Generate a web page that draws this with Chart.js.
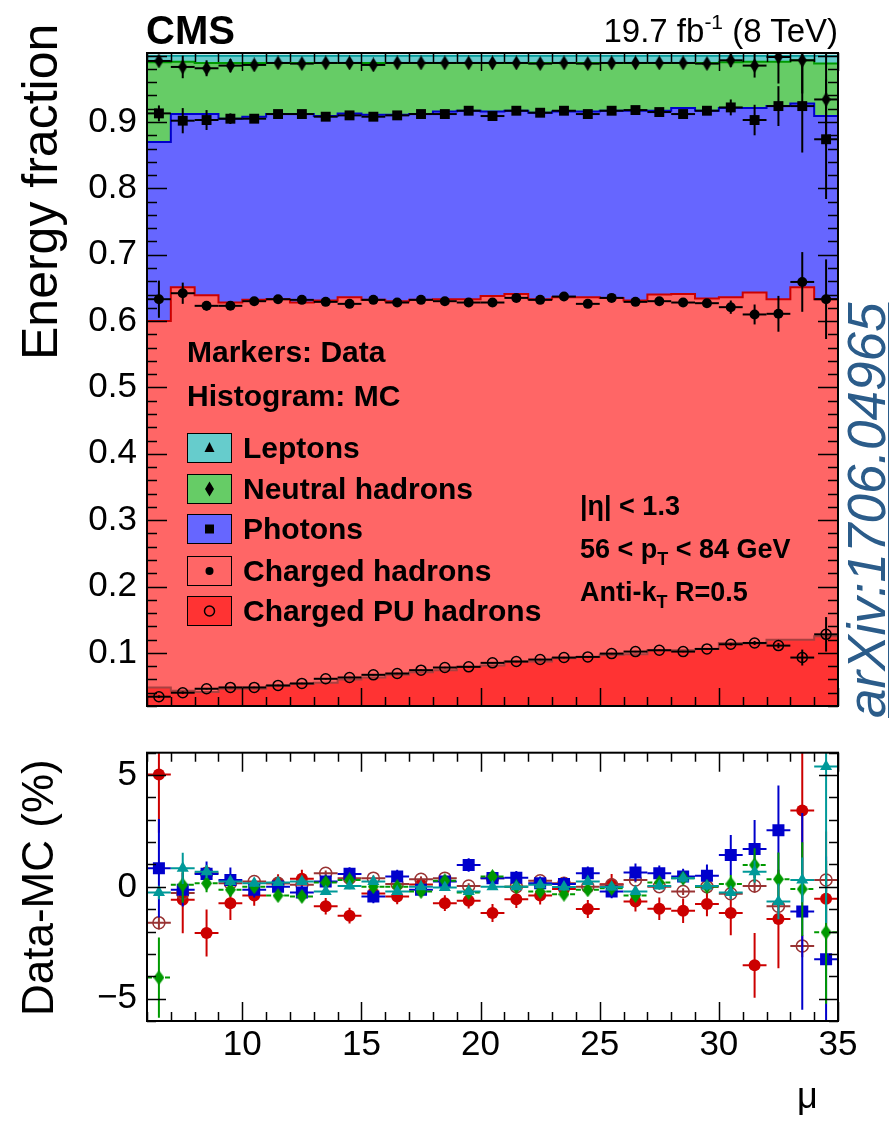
<!DOCTYPE html>
<html>
<head>
<meta charset="utf-8">
<script src="https://cdn.jsdelivr.net/npm/chart.js@4.4.0/dist/chart.umd.min.js"></script>
<style>
html,body{margin:0;padding:0;background:#fff;}
#wrap{position:relative;width:889px;height:1123px;overflow:hidden;font-family:"Liberation Sans",Arial,Helvetica,sans-serif;color:#000;}
canvas{position:absolute;left:0;}
.t{position:absolute;white-space:nowrap;}
.rot{transform-origin:0 0;transform:rotate(-90deg);}
.box{position:absolute;left:187px;width:45px;height:30px;box-sizing:border-box;border:1.5px solid #000;}
.box svg{position:absolute;left:-1.5px;top:-1.5px;}
.leg{left:243px;font-size:30px;line-height:30px;font-weight:bold;}
.cut{font-size:27px;line-height:27px;font-weight:bold;left:580px;}
</style>
</head>
<body>
<div id="wrap">
  <canvas id="upper" width="889" height="760" style="top:0"></canvas>
  <canvas id="lower" width="889" height="423" style="top:700px"></canvas>

  <div class="t" style="left:146px;top:10px;font-size:40px;line-height:40px;font-weight:bold;">CMS</div>
  <div class="t" style="right:51px;top:14px;font-size:33px;line-height:33px;">19.7 fb<span style="font-size:21px;position:relative;top:-13px;">-1</span> (8 TeV)</div>

  <div class="t" style="left:187px;top:337px;font-size:30px;line-height:30px;font-weight:bold;">Markers: Data</div>
  <div class="t" style="left:187px;top:381px;font-size:30px;line-height:30px;font-weight:bold;">Histogram: MC</div>

  <div class="box" style="top:433px;background:#66CCCC;"><svg width="45" height="30"><polygon points="22.5,9 27.5,19 17.5,19" fill="#000"/></svg></div>
  <div class="t leg" style="top:433px;">Leptons</div>
  <div class="box" style="top:474px;background:#66CC66;"><svg width="45" height="30"><polygon points="22.5,7.5 27,15 22.5,22.5 18,15" fill="#000"/></svg></div>
  <div class="t leg" style="top:474px;">Neutral hadrons</div>
  <div class="box" style="top:514px;background:#6666FF;"><svg width="45" height="30"><rect x="18" y="10.5" width="9" height="9" fill="#000"/></svg></div>
  <div class="t leg" style="top:514px;">Photons</div>
  <div class="box" style="top:556px;background:#FF6666;"><svg width="45" height="30"><circle cx="22.5" cy="15" r="4" fill="#000"/></svg></div>
  <div class="t leg" style="top:556px;">Charged hadrons</div>
  <div class="box" style="top:596px;background:#FF3333;"><svg width="45" height="30"><circle cx="22.5" cy="15" r="5" fill="none" stroke="#000" stroke-width="1.5"/></svg></div>
  <div class="t leg" style="top:596px;">Charged PU hadrons</div>

  <div class="t cut" style="top:493px;">|η| &lt; 1.3</div>
  <div class="t cut" style="top:536px;">56 &lt; p<span style="font-size:18px;position:relative;top:7px;">T</span> &lt; 84 GeV</div>
  <div class="t cut" style="top:579px;">Anti-k<span style="font-size:18px;position:relative;top:7px;">T</span> R=0.5</div>

  <div class="t rot" style="left:15px;top:360px;font-size:50px;line-height:50px;">Energy fraction</div>
  <div class="t rot" style="left:16px;top:1016px;font-size:44px;line-height:44px;">Data-MC (%)</div>
  <div class="t" style="left:797px;top:1078px;font-size:36px;line-height:36px;">μ</div>

  <div class="t rot" style="left:840px;top:718px;font-size:53px;line-height:53px;font-style:italic;color:#2B5C8A;text-decoration:underline;">arXiv:1706.04965</div>
</div>

<script>
// ---------------- data ----------------
const mu = [6.5, 7.5, 8.5, 9.5, 10.5, 11.5, 12.5, 13.5, 14.5, 15.5, 16.5, 17.5, 18.5, 19.5, 20.5,
            21.5, 22.5, 23.5, 24.5, 25.5, 26.5, 27.5, 28.5, 29.5, 30.5, 31.5, 32.5, 33.5, 34.5];
const xTickLabels = [10, 15, 20, 25, 30, 35];
const upperYTickLabels = [0.1, 0.2, 0.3, 0.4, 0.5, 0.6, 0.7, 0.8, 0.9];
const lowerYTickLabels = [-5, 0, 5];

// MC stacked histogram: cumulative upper edge of each component
const mcChargedPU = [0.048,0.043,0.041,0.046,0.046,0.050,0.053,0.055,0.060,0.063,0.067,0.071,0.074,0.079,0.081,
                     0.087,0.087,0.092,0.094,0.097,0.098,0.104,0.104,0.106,0.115,0.114,0.120,0.120,0.125];
const mcChargedHad = [0.600,0.651,0.639,0.628,0.632,0.633,0.628,0.631,0.636,0.632,0.630,0.632,0.633,0.633,0.638,
                      0.641,0.633,0.636,0.636,0.635,0.631,0.640,0.641,0.634,0.636,0.643,0.633,0.651,0.633];
const mcPhotons = [0.870,0.912,0.912,0.905,0.908,0.912,0.912,0.909,0.913,0.911,0.911,0.912,0.916,0.917,0.916,
                   0.917,0.914,0.916,0.916,0.917,0.917,0.917,0.921,0.917,0.921,0.921,0.924,0.928,0.909];
const mcNeutral = [0.990,0.991,0.989,0.989,0.989,0.989,0.989,0.989,0.989,0.989,0.989,0.989,0.989,0.989,0.989,
                   0.989,0.989,0.989,0.989,0.989,0.989,0.989,0.989,0.989,0.990,0.991,0.991,0.993,0.988];
const mcLeptons = [1,1,1,1,1,1,1,1,1,1,1,1,1,1,1,1,1,1,1,1,1,1,1,1,1,1,1,1,1];

// Data: cumulative positions of the markers
const dataChargedPU = [0.034,0.040,0.046,0.048,0.048,0.051,0.054,0.061,0.063,0.067,0.069,0.074,0.078,0.079,0.085,
                       0.087,0.090,0.093,0.094,0.099,0.102,0.104,0.102,0.106,0.113,0.115,0.111,0.093,0.128];
const dataChargedHad = [0.633,0.642,0.623,0.623,0.630,0.633,0.632,0.629,0.626,0.632,0.628,0.632,0.630,0.628,0.628,
                        0.635,0.632,0.637,0.626,0.635,0.629,0.630,0.628,0.627,0.621,0.610,0.611,0.659,0.633];
const dataPhotons = [0.913,0.902,0.903,0.905,0.905,0.912,0.912,0.908,0.910,0.908,0.910,0.912,0.912,0.917,0.909,
                     0.917,0.914,0.917,0.912,0.917,0.918,0.915,0.912,0.917,0.922,0.903,0.924,0.924,0.874];
const dataNeutral = [0.992,0.983,0.981,0.985,0.986,0.989,0.988,0.989,0.989,0.986,0.989,0.989,0.989,0.989,0.989,
                     0.989,0.988,0.989,0.988,0.989,0.989,0.989,0.989,0.988,0.993,0.985,0.998,0.993,0.934];
const errChargedPU = [0.002,0.002,0.001,0.001,0.001,0.001,0.001,0.001,0.001,0.001,0.001,0.001,0.001,0.001,0.001,
                      0.001,0.001,0.001,0.001,0.001,0.001,0.001,0.001,0.001,0.002,0.003,0.004,0.012,0.026];
const errChargedHad = [0.028,0.016,0.007,0.005,0.003,0.002,0.002,0.002,0.002,0.002,0.002,0.002,0.002,0.002,0.002,
                       0.002,0.002,0.002,0.002,0.002,0.002,0.002,0.002,0.003,0.010,0.015,0.027,0.045,0.060];
const errPhotons = [0.012,0.019,0.015,0.008,0.003,0.002,0.002,0.002,0.002,0.002,0.002,0.002,0.002,0.002,0.002,
                    0.002,0.002,0.002,0.002,0.002,0.002,0.002,0.003,0.003,0.012,0.023,0.030,0.070,0.090];
const errNeutral = [0.006,0.017,0.012,0.010,0.004,0.003,0.003,0.003,0.003,0.004,0.003,0.003,0.003,0.003,0.003,
                    0.003,0.003,0.003,0.003,0.003,0.003,0.003,0.003,0.003,0.010,0.018,0.040,0.050,0.070];

// Data - MC (%) per component
const diffLeptons = [-0.25,0.83,0.68,0.24,0.16,0.19,0.24,-0.21,0.04,0.24,-0.21,0.01,-0.03,-0.21,0.01,
                     0.01,0.09,-0.01,0.24,-0.01,-0.21,0.04,0.39,0.04,-0.25,0.68,-0.65,0.31,5.38];
const diffNeutral = [-4.06,0.09,0.16,-0.13,0.01,-0.39,-0.43,0.19,0.31,0.01,0.01,-0.21,0.27,-0.25,0.46,
                     0.00,-0.21,-0.33,-0.13,-0.06,-0.39,0.19,0.39,0.01,0.13,0.98,0.34,-0.10,-2.03];
const diffPhotons = [0.83,-0.13,0.58,0.31,-0.13,0.01,-0.25,0.24,0.58,-0.43,0.46,-0.13,0.24,0.98,0.39,
                     0.41,0.16,0.13,0.61,-0.21,0.64,0.61,0.46,0.50,1.42,1.69,2.53,-1.10,-3.24];
const diffChargedHad = [5.02,-0.58,-2.06,-0.73,-0.39,0.16,0.36,-0.87,-1.29,-0.30,-0.43,0.10,-0.73,-0.62,-1.17,
                        -0.55,-0.39,-0.10,-0.99,0.12,-0.65,-0.98,-1.07,-0.77,-1.17,-3.51,-1.44,3.42,-0.53];
const diffChargedPU = [-1.61,-0.28,0.61,0.16,0.24,0.16,0.09,0.61,0.39,0.39,0.13,0.34,0.39,0.04,0.39,
                       0.01,0.27,0.16,0.01,0.09,0.31,0.01,-0.21,0.01,-0.31,0.04,-0.87,-2.65,0.31];
const errDiffLeptons = [0.30,0.70,0.30,0.20,0.15,0.15,0.15,0.15,0.15,0.15,0.15,0.15,0.15,0.15,0.15,
                        0.15,0.15,0.15,0.15,0.15,0.15,0.15,0.20,0.20,0.30,0.50,0.80,1.00,7.00];
const errDiffNeutral = [1.80,0.80,0.40,0.30,0.20,0.20,0.20,0.20,0.20,0.20,0.20,0.20,0.20,0.20,0.20,
                        0.20,0.20,0.20,0.20,0.20,0.20,0.20,0.20,0.20,0.40,0.75,1.20,2.10,3.20];
const errDiffPhotons = [2.20,0.75,0.55,0.55,0.35,0.30,0.30,0.30,0.30,0.30,0.30,0.30,0.30,0.30,0.30,
                        0.30,0.30,0.30,0.30,0.30,0.40,0.35,0.35,0.50,0.90,1.30,2.00,4.40,4.60];
const errDiffChargedHad = [2.60,1.50,1.05,0.75,0.45,0.40,0.40,0.37,0.35,0.35,0.35,0.35,0.35,0.35,0.40,
                           0.40,0.40,0.40,0.40,0.45,0.45,0.50,0.55,0.55,1.00,1.45,2.20,3.50,3.00];
const errDiffChargedPU = [0.30,0.20,0.15,0.15,0.12,0.12,0.12,0.12,0.12,0.12,0.12,0.12,0.12,0.12,0.12,
                          0.12,0.12,0.12,0.12,0.12,0.12,0.12,0.15,0.15,0.20,0.30,0.40,0.50,0.50];

// ---------------- helpers ----------------
const binHalf = 0.5;
const points = vals => mu.map((c, i) => ({x: c, y: vals[i]}));
function steps(vals) {
  const p = mu.map((c, i) => ({x: c - binHalf, y: vals[i]}));
  p.push({x: mu[mu.length - 1] + binHalf, y: vals[vals.length - 1]});
  return p;
}
function diamond(w, h, color) {
  const c = document.createElement('canvas');
  c.width = w; c.height = h;
  const g = c.getContext('2d');
  g.fillStyle = color;
  g.beginPath();
  g.moveTo(w / 2, 0); g.lineTo(w, h / 2); g.lineTo(w / 2, h); g.lineTo(0, h / 2);
  g.closePath(); g.fill();
  return c;
}
const FONT = "'Liberation Sans', Arial, Helvetica, sans-serif";

const errorBars = {
  id: 'errorBars',
  beforeDatasetDraw(chart, args) {
    const ds = chart.data.datasets[args.index];
    if (!ds.errY) return;
    const xs = chart.scales.x, ys = chart.scales.y, ctx = chart.ctx, a = chart.chartArea;
    ctx.save();
    ctx.beginPath(); ctx.rect(a.left, a.top, a.right - a.left, a.bottom - a.top); ctx.clip();
    ctx.strokeStyle = ds.errColor; ctx.lineWidth = 2;
    ds.data.forEach((p, i) => {
      const px = xs.getPixelForValue(p.x), py = ys.getPixelForValue(p.y);
      ctx.setLineDash(ds.errDashX || []);
      ctx.beginPath();
      ctx.moveTo(xs.getPixelForValue(p.x - binHalf), py);
      ctx.lineTo(xs.getPixelForValue(p.x + binHalf), py);
      ctx.stroke();
      ctx.setLineDash([]);
      ctx.beginPath();
      ctx.moveTo(px, ys.getPixelForValue(p.y + ds.errY[i]));
      ctx.lineTo(px, ys.getPixelForValue(p.y - ds.errY[i]));
      ctx.stroke();
    });
    ctx.restore();
  }
};

const frameTicks = {
  id: 'frameTicks',
  afterDatasetsDraw(chart, args, o) {
    const {ctx, chartArea: a} = chart;
    const xs = chart.scales.x, ys = chart.scales.y;
    ctx.save();
    ctx.strokeStyle = '#000'; ctx.lineWidth = 1.5;
    ctx.beginPath();
    const isMajor = (v, m) => Math.abs(v / m - Math.round(v / m)) < 1e-6;
    for (let k = Math.ceil(xs.min / o.xMinor - 1e-9); k * o.xMinor <= xs.max + 1e-9; k++) {
      const v = k * o.xMinor, L = isMajor(v, o.xMajor) ? o.xLen[0] : o.xLen[1];
      const px = Math.round(xs.getPixelForValue(v)) + 0.5;
      ctx.moveTo(px, a.bottom); ctx.lineTo(px, a.bottom - L);
      ctx.moveTo(px, a.top); ctx.lineTo(px, a.top + L);
    }
    for (let k = Math.ceil(ys.min / o.yMinor - 1e-9); k * o.yMinor <= ys.max + 1e-9; k++) {
      const v = k * o.yMinor, L = isMajor(v, o.yMajor) ? o.yLen[0] : o.yLen[1];
      const py = Math.round(ys.getPixelForValue(v)) + 0.5;
      ctx.moveTo(a.left, py); ctx.lineTo(a.left + L, py);
      ctx.moveTo(a.right, py); ctx.lineTo(a.right - L, py);
    }
    ctx.stroke();
    ctx.lineWidth = 2;
    ctx.strokeRect(a.left, a.top, a.right - a.left, a.bottom - a.top);
    ctx.restore();
  }
};

// ---------------- upper panel ----------------
const mcStyle = (vals, fill, bg, line) => ({
  data: steps(vals), showLine: true, stepped: 'before', fill, backgroundColor: bg,
  borderColor: line, borderWidth: 2, pointRadius: 0, order: 1
});
const dataStyle = (label, vals, err, style, radius, filled) => ({
  label, data: points(vals), errY: err, errColor: '#000', order: 0,
  pointStyle: style, pointRadius: radius, pointHoverRadius: radius,
  backgroundColor: filled ? '#000' : 'rgba(0,0,0,0)', borderColor: '#000',
  borderWidth: filled ? 0 : 1.5, showLine: false
});

new Chart(document.getElementById('upper'), {
  type: 'scatter',
  data: {
    datasets: [
      Object.assign({label: 'MC Charged PU hadrons'}, mcStyle(mcChargedPU, 'start', '#FF3333', '#A84040')),
      Object.assign({label: 'MC Charged hadrons'}, mcStyle(mcChargedHad, '-1', '#FF6666', '#CC0000')),
      Object.assign({label: 'MC Photons'}, mcStyle(mcPhotons, '-1', '#6666FF', '#0000CC')),
      Object.assign({label: 'MC Neutral hadrons'}, mcStyle(mcNeutral, '-1', '#66CC66', '#009900')),
      Object.assign({label: 'MC Leptons'}, mcStyle(mcLeptons, '-1', '#66CCCC', '#009999')),
      dataStyle('Data Charged PU hadrons', dataChargedPU, errChargedPU, 'circle', 5, false),
      dataStyle('Data Charged hadrons', dataChargedHad, errChargedHad, 'circle', 5, true),
      dataStyle('Data Photons', dataPhotons, errPhotons, 'rect', 7, true),
      dataStyle('Data Neutral hadrons', dataNeutral, errNeutral, diamond(9, 15, '#000'), 6, true)
    ]
  },
  options: {
    responsive: false, animation: false, devicePixelRatio: 1,
    layout: {padding: {left: 0, right: 51, top: 53, bottom: 54}},
    plugins: {
      legend: {display: false}, tooltip: {enabled: false},
      frameTicks: {xMinor: 1, xMajor: 5, xLen: [18, 9], yMinor: 0.02, yMajor: 0.1, yLen: [20, 10]}
    },
    scales: {
      x: {type: 'linear', min: 6, max: 35, display: false},
      y: {
        type: 'linear', min: 0.02, max: 1.004,
        grid: {display: false, drawTicks: false}, border: {display: false},
        afterBuildTicks: s => { s.ticks = upperYTickLabels.map(v => ({value: v})); },
        afterFit: s => { s.width = 147; },
        ticks: {color: '#000', padding: 10, font: {family: FONT, size: 35}, callback: v => v.toFixed(1)}
      }
    }
  },
  plugins: [errorBars, frameTicks]
});

// ---------------- lower panel ----------------
const diffStyle = (label, vals, err, color, style, radius, filled, dash) => ({
  label, data: points(vals), errY: err, errColor: color, errDashX: dash,
  pointStyle: style, pointRadius: radius, pointHoverRadius: radius,
  backgroundColor: filled ? color : 'rgba(0,0,0,0)', borderColor: color,
  borderWidth: filled ? 0 : 1.5, showLine: false
});

new Chart(document.getElementById('lower'), {
  type: 'scatter',
  data: {
    datasets: [
      diffStyle('Leptons', diffLeptons, errDiffLeptons, '#009999', 'triangle', 7, true),
      diffStyle('Neutral hadrons', diffNeutral, errDiffNeutral, '#009900', diamond(11, 15, '#009900'), 6, true, [5, 4]),
      diffStyle('Photons', diffPhotons, errDiffPhotons, '#0000CC', 'rect', 8.5, true),
      diffStyle('Charged PU hadrons', diffChargedPU, errDiffChargedPU, '#993333', 'circle', 6, false),
      diffStyle('Charged hadrons', diffChargedHad, errDiffChargedHad, '#CC0000', 'circle', 6, true)
    ]
  },
  options: {
    responsive: false, animation: false, devicePixelRatio: 1,
    layout: {padding: {left: 0, right: 51, top: 52.7, bottom: 0}},
    plugins: {
      legend: {display: false}, tooltip: {enabled: false},
      frameTicks: {xMinor: 1, xMajor: 5, xLen: [19, 9], yMinor: 1, yMajor: 5, yLen: [19, 9]}
    },
    scales: {
      x: {
        type: 'linear', min: 6, max: 35,
        grid: {display: false, drawTicks: false}, border: {display: false},
        afterBuildTicks: s => { s.ticks = xTickLabels.map(v => ({value: v})); },
        afterFit: s => { s.height = 102; },
        ticks: {color: '#000', padding: 3, maxRotation: 0, font: {family: FONT, size: 35}}
      },
      y: {
        type: 'linear', min: -6, max: 6,
        grid: {display: false, drawTicks: false}, border: {display: false},
        afterBuildTicks: s => { s.ticks = lowerYTickLabels.map(v => ({value: v})); },
        afterFit: s => { s.width = 147; },
        ticks: {color: '#000', padding: 10, font: {family: FONT, size: 35},
                callback: v => (v < 0 ? '\u2212' + Math.abs(v) : String(v))}
      }
    }
  },
  plugins: [errorBars, frameTicks]
});
</script>
</body>
</html>
